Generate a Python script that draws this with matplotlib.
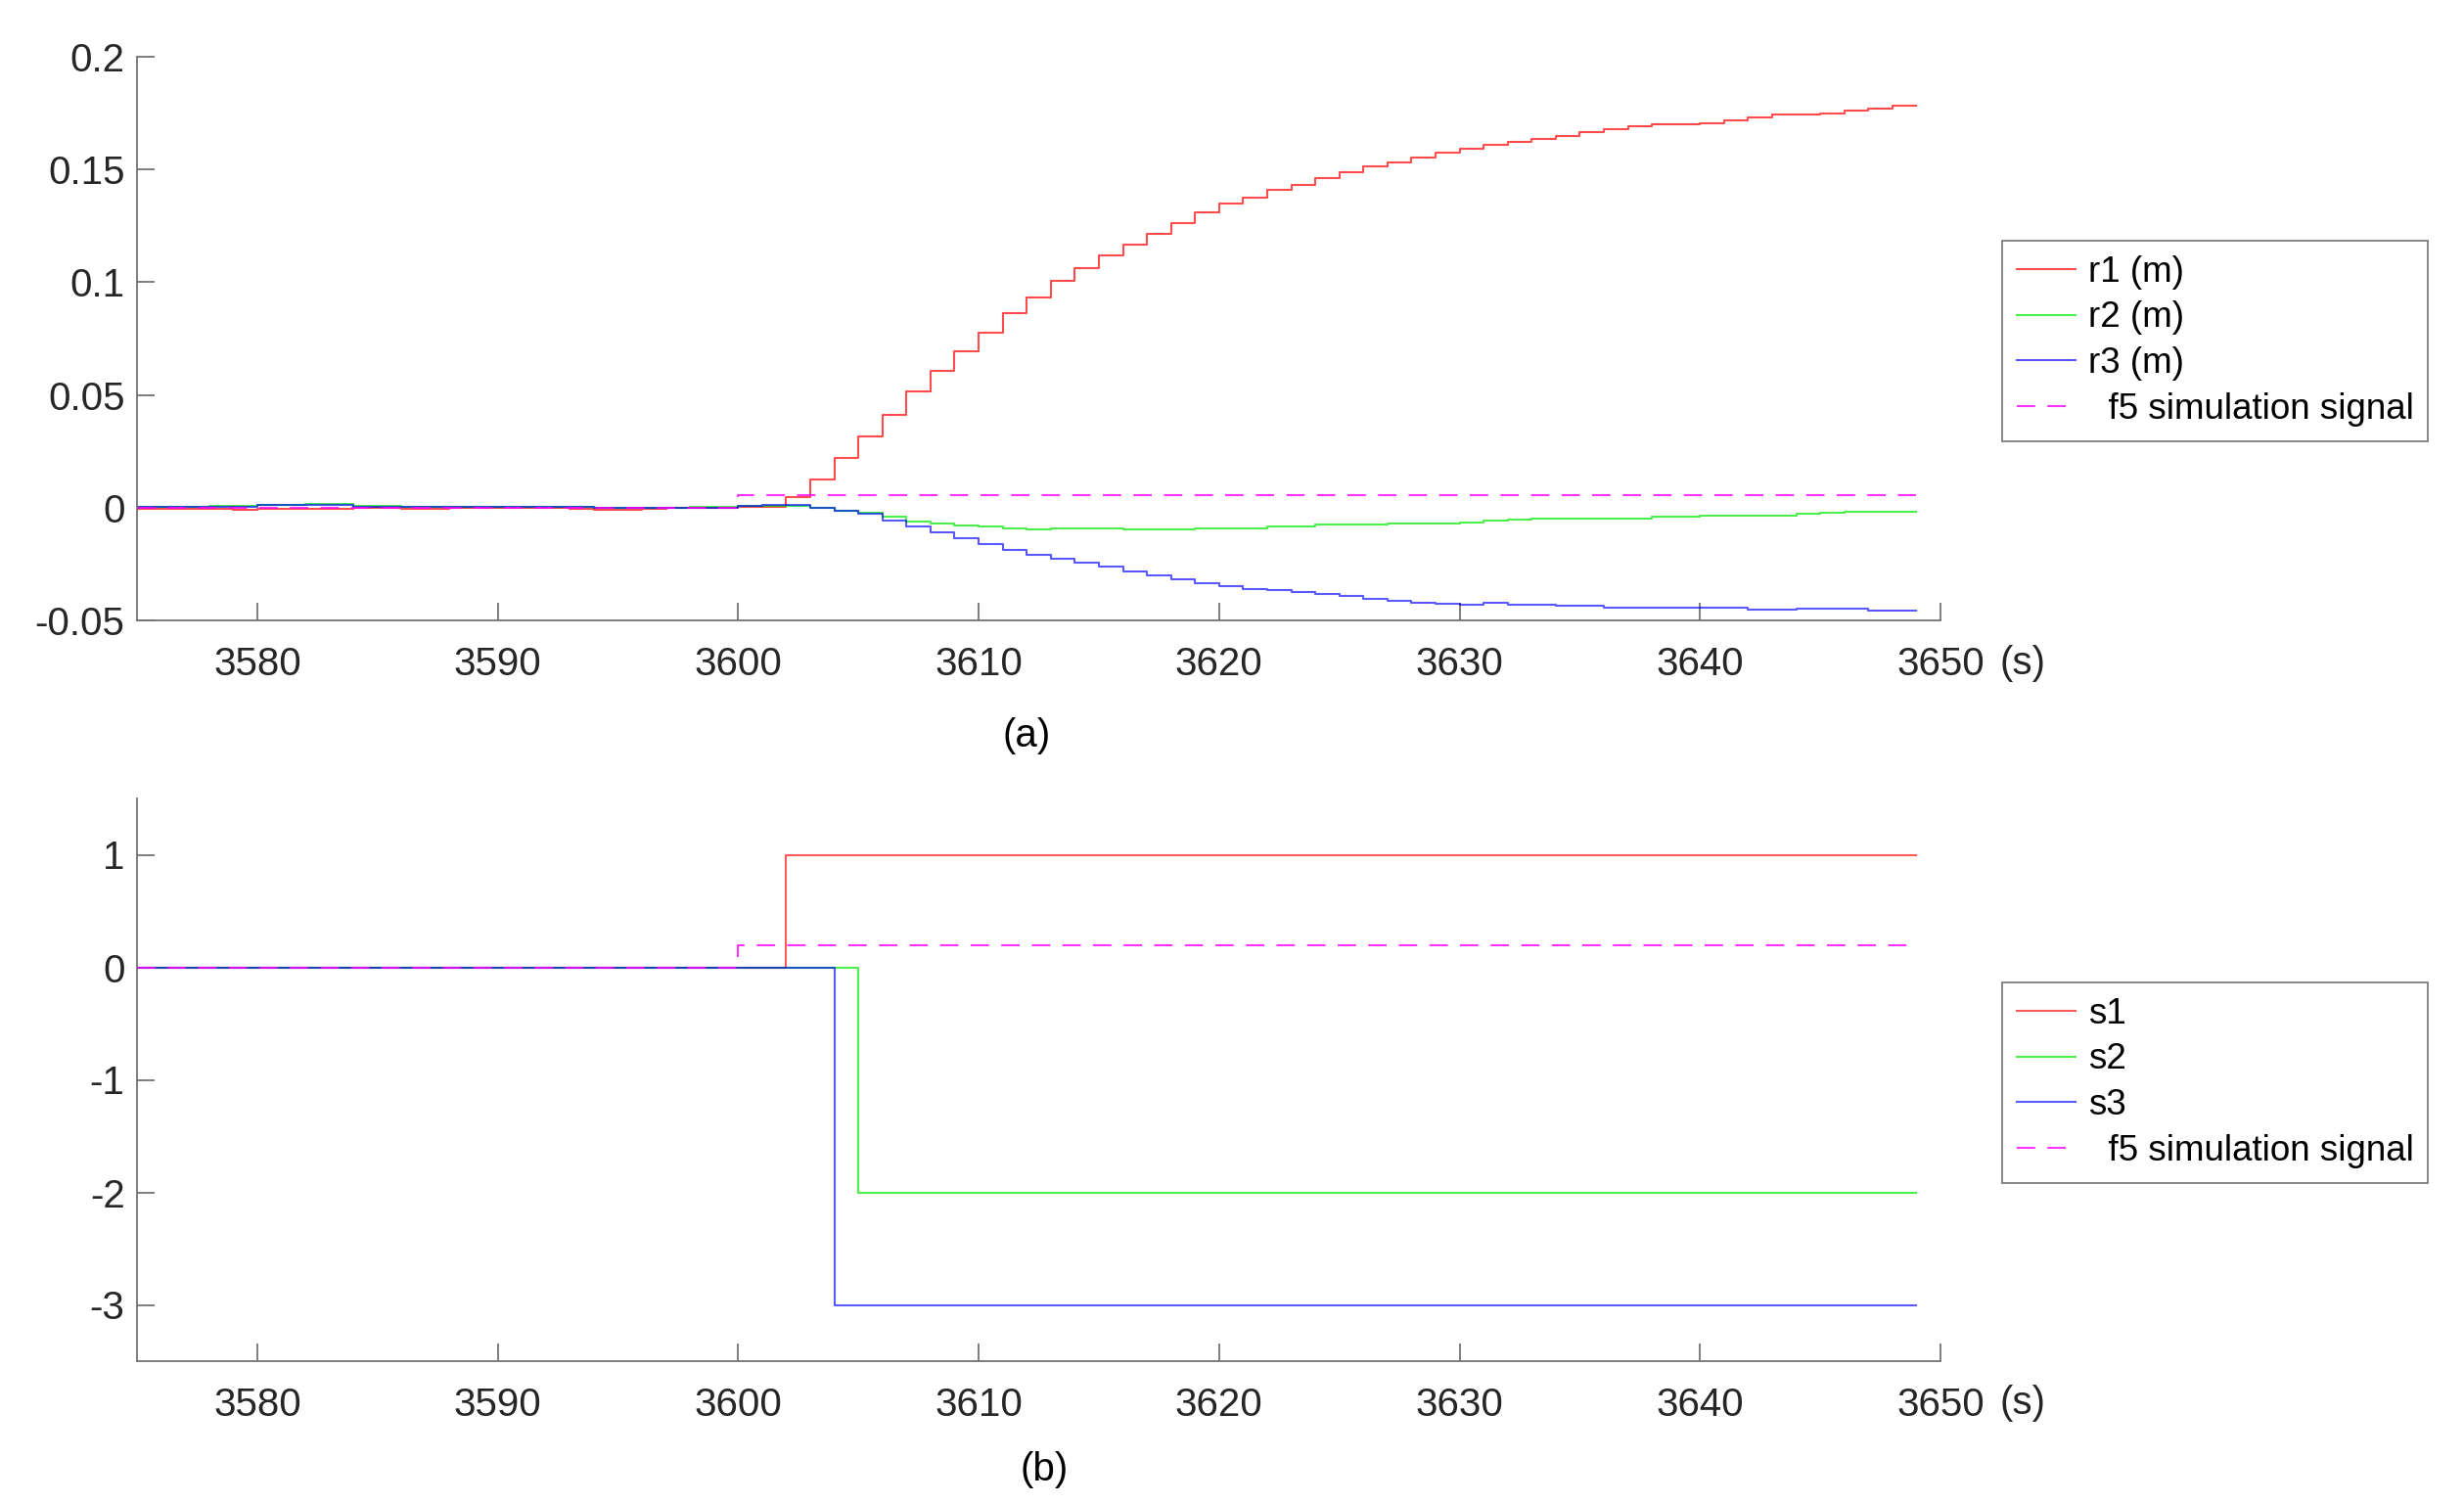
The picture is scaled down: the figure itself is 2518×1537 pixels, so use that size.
import matplotlib
matplotlib.use("Agg")
import matplotlib.pyplot as plt
import numpy as np

# sample times (1 s steps)
t = np.arange(3575, 3650)

r1 = [-0.0004, -0.0004, -0.0004, -0.0006, -0.0009, -0.0006, -0.0006, -0.0006, -0.0006, -0.0002,
      -0.0002, -0.0006, -0.0006, -0.0002, -0.0002, 0.0, 0.0, 0.0, -0.0006, -0.0010,
      -0.0010, -0.0007, -0.0001, -0.0001, -0.0001, 0.0003, 0.0003, 0.0047, 0.0123, 0.0219,
      0.0314, 0.0413, 0.0514, 0.0606, 0.0693, 0.0778, 0.0863, 0.0932, 0.1006, 0.1064,
      0.1117, 0.1167, 0.1216, 0.1264, 0.1312, 0.1347, 0.1377, 0.1409, 0.1430, 0.1460,
      0.1487, 0.1512, 0.1531, 0.1555, 0.1575, 0.1591, 0.1609, 0.1621, 0.1636, 0.1647,
      0.1664, 0.1677, 0.1691, 0.1701, 0.1701, 0.1707, 0.1719, 0.1730, 0.1742, 0.1745,
      0.1750, 0.1760, 0.1769, 0.1782, 0.1782]
r2 = [0.0005, 0.0005, 0.0005, 0.0008, 0.0008, 0.0010, 0.0010, 0.0016, 0.0016, 0.0006,
      0.0006, 0.0005, 0.0005, 0.0004, 0.0004, 0.0003, 0.0003, 0.0002, 0.0002, -0.0002,
      0.0, 0.0001, 0.0001, 0.0002, 0.0002, 0.0006, 0.0008, 0.0009, 0.0, -0.0015,
      -0.0022, -0.0041, -0.0061, -0.0071, -0.0078, -0.0085, -0.0090, -0.0096, -0.0092, -0.0092,
      -0.0090, -0.0096, -0.0096, -0.0098, -0.0094, -0.0094, -0.0092, -0.0084, -0.0084, -0.0074,
      -0.0074, -0.0076, -0.0072, -0.0072, -0.0072, -0.0067, -0.0057, -0.0052, -0.0047, -0.0050,
      -0.0050, -0.0050, -0.0047, -0.0041, -0.0041, -0.0034, -0.0034, -0.0034, -0.0034, -0.0028,
      -0.0023, -0.0017, -0.0020, -0.0020, -0.0020]
r3 = [0.0005, 0.0005, 0.0005, 0.0005, 0.0005, 0.0012, 0.0012, 0.0012, 0.0012, 0.0005,
      0.0005, 0.0005, 0.0005, 0.0005, 0.0005, 0.0003, 0.0003, 0.0003, 0.0003, -0.0003,
      0.0, 0.0, 0.0, 0.0, 0.0, 0.0007, 0.0010, 0.0010, 0.0, -0.0015,
      -0.0029, -0.0057, -0.0084, -0.0110, -0.0137, -0.0163, -0.0186, -0.0211, -0.0227, -0.0245,
      -0.0262, -0.0282, -0.0299, -0.0319, -0.0333, -0.0347, -0.0359, -0.0367, -0.0376, -0.0383,
      -0.0390, -0.0404, -0.0412, -0.0420, -0.0427, -0.0429, -0.0424, -0.0429, -0.0429, -0.0437,
      -0.0437, -0.0442, -0.0442, -0.0442, -0.0442, -0.0442, -0.0442, -0.0453, -0.0453, -0.0447,
      -0.0447, -0.0447, -0.0455, -0.0455, -0.0455]

# switching signals: change times and levels
s_t1 = [3575, 3602, 3649]
s1 = [0, 1, 1]
s_t2 = [3575, 3605, 3649]
s2 = [0, -2, -2]
s_t3 = [3575, 3604, 3649]
s3 = [0, -3, -3]

# f5 simulation signal (both panels)
f5_t = [3575, 3600, 3649]
f5_top = [0, 0.0055, 0.0055]
f5_bot = [0, 0.2, 0.2]

RED, GREEN, BLUE, MAG = "#ff0000", "#00e600", "#0000ff", "#ff00ff"
GRAY = "#737373"

plt.rcParams["font.family"] = ["Liberation Sans", "DejaVu Sans"]
plt.rcParams["axes.unicode_minus"] = False

fig = plt.figure(figsize=(25.18, 15.37), dpi=100)
ax1 = fig.add_axes([140 / 2518, 1 - 634 / 1537, 1843 / 2518, 576 / 1537])
ax2 = fig.add_axes([140 / 2518, 1 - 1391 / 1537, 1843 / 2518, 575 / 1537])

lw = 1.5
ax1.step(t, r1, where="post", color=RED, lw=lw, alpha=0.7, label="r1 (m)")
ax1.step(t, r2, where="post", color=GREEN, lw=lw, alpha=0.7, label="r2 (m)")
ax1.step(t, r3, where="post", color=BLUE, lw=lw, alpha=0.65, label="r3 (m)")
ax1.step(f5_t, f5_top, where="post", color=MAG, lw=lw, alpha=0.8, dashes=(9, 6),
         label="  f5 simulation signal")

ax2.step(s_t1, s1, where="post", color=RED, lw=lw, alpha=0.65, label="s1")
ax2.step(s_t2, s2, where="post", color=GREEN, lw=lw, alpha=0.7, label="s2")
ax2.step(s_t3, s3, where="post", color=BLUE, lw=lw, alpha=0.65, label="s3")
ax2.step(f5_t, f5_bot, where="post", color=MAG, lw=lw, alpha=0.8, dashes=(9, 6),
         label="  f5 simulation signal")

ax1.set_ylim(-0.05, 0.2)
ax1.set_yticks([-0.05, 0, 0.05, 0.1, 0.15, 0.2])
ax1.set_yticklabels(["-0.05", "0", "0.05", "0.1", "0.15", "0.2"])
ax2.set_ylim(-3.5, 1.5)
ax2.set_yticks([-3, -2, -1, 0, 1])

for ax in (ax1, ax2):
    ax.set_xlim(3575, 3650)
    ax.set_xticks(range(3580, 3651, 10))
    ax.spines[["top", "right"]].set_visible(False)
    for s in ("left", "bottom"):
        ax.spines[s].set_color(GRAY)
        ax.spines[s].set_linewidth(1.3)
    ax.tick_params(direction="in", length=13, width=1.3, color=GRAY,
                   labelsize=29, labelcolor="#262626")
    ax.tick_params(axis="x", pad=19)
    ax.tick_params(axis="y", pad=9)

for ax, y in ((ax1, 1 - 678 / 1537), (ax2, 1 - 1434 / 1537)):
    fig.text(2043 / 2518, y, "(s)", fontsize=29, color="#262626", va="center", ha="left")

fig.text(1049 / 2518, 1 - 752 / 1537, "(a)", fontsize=29, ha="center", va="center")
fig.text(1067 / 2518, 1 - 1502 / 1537, "(b)", fontsize=29, ha="center", va="center")

for ax, top in ((ax1, 246), (ax2, 1004)):
    leg = ax.legend(loc="upper left", bbox_to_anchor=(2046 / 2518, 1 - top / 1537),
                    bbox_transform=fig.transFigure, borderaxespad=0, fontsize=26.5,
                    frameon=True, fancybox=False, framealpha=1, handlelength=1.65,
                    handletextpad=0.33, borderpad=0.4, labelspacing=0.32)
    leg.get_frame().set_edgecolor(GRAY)
    leg.get_frame().set_linewidth(1.2)

fig.savefig("out.png", dpi=100)
